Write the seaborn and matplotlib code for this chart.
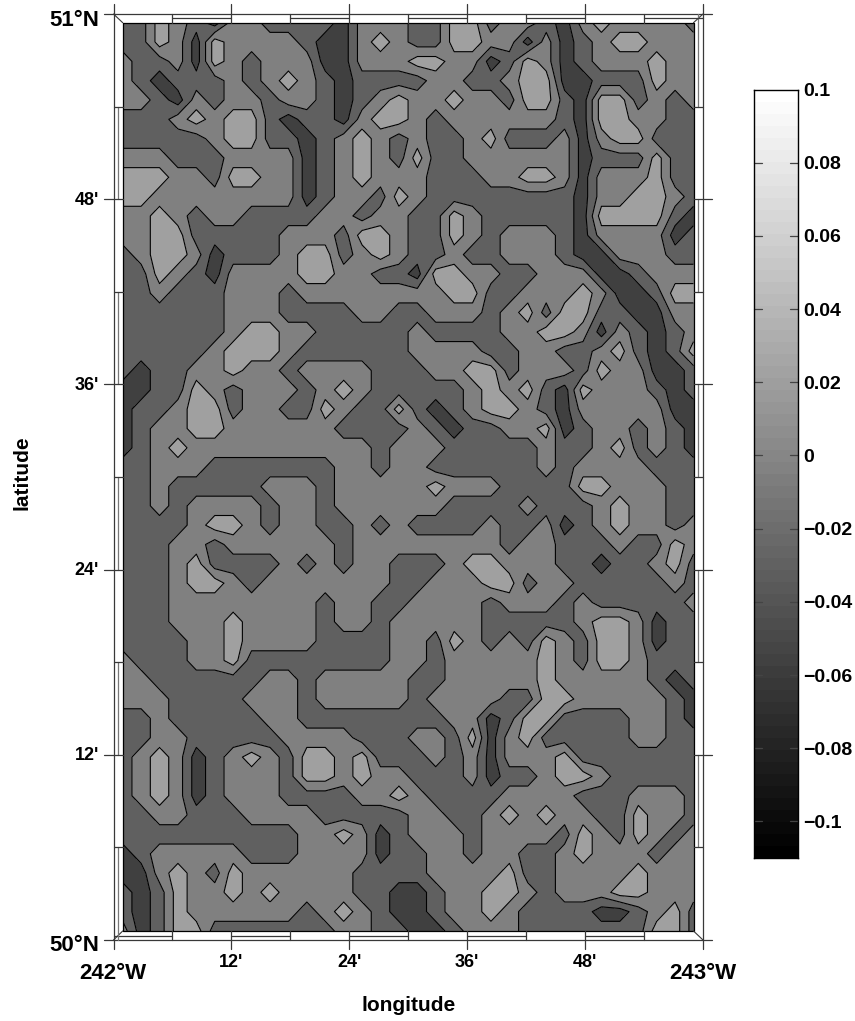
import numpy as np
import matplotlib
matplotlib.use("Agg")
import matplotlib.pyplot as plt
import seaborn as sns

# grey band of each grid node, north to south
# 0 darkest ... 3 lightest
BAND_ROWS = [
    "11321022 11110222 11331221 02322221",
    "11320322 22100232 11332202 01233222",
    "21120321 22200222 33220132 01222322",
    "21011121 23210111 12211233 00111322",
    "22102122 12210123 22322133 10331212",
    "11123233 10110233 21222222 10332211",
    "11111233 11012321 21123111 20233111",
    "22211122 22012321 31122222 20111311",
    "33322133 22012322 21112233 20222311",
    "33222222 22012213 21111111 10223321",
    "22321221 11122122 11321111 10333310",
    "22331111 12221332 11321222 10222201",
    "12332011 12331232 11211222 10022211",
    "11321022 22332211 03322112 22001222",
    "11211122 21222222 22331122 23200133",
    "11111122 21111221 12221231 33110022",
    "11111123 32211111 21111223 32021012",
    "11111233 32111111 22221122 11231013",
    "10112232 21222211 12233122 21322001",
    "00113212 22123211 11123231 03222101",
    "01123312 21132113 10123321 02222200",
    "01223322 22221111 21011223 01221210",
    "01232222 22222212 22111112 11231210",
    "11222111 11112212 21111112 12222111",
    "11211111 22212222 23222111 13322211",
    "11212222 12212222 22111121 11232211",
    "11112332 12211212 11112112 01232212",
    "11122122 22221222 22222122 11121132",
    "11123111 12121221 11233222 11011231",
    "11123321 22222221 12223312 21111121",
    "11122222 22212211 22221222 12111112",
    "11122232 22212212 22221111 12332011",
    "11112232 22211112 21321213 21332011",
    "21112231 11111112 21222223 21332111",
    "22111111 22122222 11222223 22222101",
    "22211112 22122222 12222113 32222210",
    "11211111 22111111 11220133 11112210",
    "11221111 12222111 22130231 11112211",
    "12320123 21332311 12120222 31111111",
    "12320122 21332322 11120112 33211111",
    "12320122 21111223 21111222 21112221",
    "11221112 22211111 22112323 22113221",
    "11111111 11223201 22212222 13213212",
    "01222221 11222201 12212211 23222122",
    "00232132 22222111 12222311 22223222",
    "10132232 32222110 01223321 22233222",
    "10132222 22123210 01223211 11001231",
    "20133111 11112211 00122211 11111331",
]
BAND_VALUES = [-0.05, -0.025, 0.0, 0.025]
BAND_COLORS = ["#404040", "#606060", "#808080", "#a0a0a0"]
LEVELS = [-1.0, -0.0375, -0.0125, 0.0125, 1.0]

LON_TICKS = ["12'", "24'", "36'", "48'"]
LAT_TICKS = ["12'", "24'", "36'", "48'"]
BAR_TICKS = [0.1, 0.08, 0.06, 0.04, 0.02, 0, -0.02, -0.04, -0.06, -0.08, -0.1]
BAR_LABELS = ["0.1", "0.08", "0.06", "0.04", "0.02", "0",
              "\u22120.02", "\u22120.04", "\u22120.06", "\u22120.08", "\u22120.1"]
BAR_TOP, BAR_BOTTOM = 0.1, -0.11

W, H = 855, 1021
OX0, OX1, OY0, OY1 = 113.5, 703.0, 14.0, 940.0   # outer frame, px
IX0, IX1, IY0, IY1 = 122.7, 693.5, 22.7, 931.0   # map area, px
FRAME = "#383838"


def px_axes(fig, x0, y0, x1, y1):
    return fig.add_axes([x0 / W, 1 - y1 / H, (x1 - x0) / W, (y1 - y0) / H])


sns.set_theme(style="white")
plt.rcParams["font.family"] = ["Liberation Sans", "DejaVu Sans"]
plt.rcParams["font.weight"] = "bold"
plt.rcParams["text.color"] = "black"

z = np.array([[BAND_VALUES[int(c)] for c in r.replace(" ", "")] for r in BAND_ROWS])
lon = np.linspace(242, 243, z.shape[1])
lat = np.linspace(51, 50, z.shape[0])

fig = plt.figure(figsize=(W / 100, H / 100), dpi=100, facecolor="white")

# map
ax = px_axes(fig, IX0, IY0, IX1, IY1)
ax.contourf(lon, lat, z, levels=LEVELS, colors=BAND_COLORS)
ax.contour(lon, lat, z, levels=LEVELS[1:-1], colors="black", linewidths=0.8, linestyles="solid")
ax.set_xlim(242, 243)
ax.set_ylim(50, 51)
ax.set_xticks([])
ax.set_yticks([])
for s in ax.spines.values():
    s.set_visible(False)

# colour bar
ax_bar = px_axes(fig, 754, 89.5, 798, 858)
bar = np.linspace(1, 0, 64).reshape(-1, 1)
sns.heatmap(bar, ax=ax_bar, cmap="gray", vmin=0, vmax=1, cbar=False,
            xticklabels=False, yticklabels=False)
span = BAR_TOP - BAR_BOTTOM
ypos = [(BAR_TOP - v) / span * 64 for v in BAR_TICKS]
ax_bar.yaxis.tick_right()
ax_bar.set_yticks(ypos)
ax_bar.set_yticklabels(BAR_LABELS, fontsize=14, fontweight="bold", rotation=0, color="black")
ax_bar.tick_params(axis="y", length=0, pad=4)
for s in ax_bar.spines.values():
    s.set_visible(True)
    s.set_color("black")
    s.set_linewidth(1.0)
for y in ypos[1:]:
    ax_bar.plot([0, 0.18], [y, y], color="#444444", lw=0.9, clip_on=False)
    ax_bar.plot([0.82, 1], [y, y], color="#444444", lw=0.9, clip_on=False)

# fancy frame, drawn in pixel space
ov = fig.add_axes([0, 0, 1, 1], facecolor="none")
ov.set_xlim(0, W)
ov.set_ylim(H, 0)
ov.axis("off")
ov.plot([OX0, OX1, OX1, OX0, OX0], [OY0, OY0, OY1, OY1, OY0], color=FRAME, lw=0.9)
ov.plot([IX0, IX1, IX1, IX0, IX0], [IY0, IY0, IY1, IY1, IY0], color="black", lw=0.9)
ov.plot([OX0, IX0], [OY0, IY0], color=FRAME, lw=0.8)
ov.plot([OX1, IX1], [OY0, IY0], color=FRAME, lw=0.8)
ov.plot([OX0, IX0], [OY1, IY1], color=FRAME, lw=0.8)
ov.plot([OX1, IX1], [OY1, IY1], color=FRAME, lw=0.8)

xs = np.linspace(OX0, OX1, 11)
ys = np.linspace(OY0, OY1, 11)
for k in range(10):
    x0, x1 = xs[k], xs[k + 1]
    y0, y1 = ys[k], ys[k + 1]
    if k % 2 == 1:
        ov.plot([x0, x1], [18.5, 18.5], color=FRAME, lw=0.9)
        ov.plot([118, 118], [y0, y1], color="#777777", lw=0.9)
    else:
        ov.plot([x0, x1], [935.5, 935.5], color=FRAME, lw=0.9)
        ov.plot([698.3, 698.3], [y0, y1], color="#777777", lw=0.9)
for k in range(1, 10):
    ov.plot([xs[k], xs[k]], [OY0, IY0], color=FRAME, lw=0.9)
    ov.plot([xs[k], xs[k]], [OY1, IY1], color=FRAME, lw=0.9)
    ov.plot([OX0, IX0], [ys[k], ys[k]], color=FRAME, lw=0.9)
    ov.plot([OX1, IX1], [ys[k], ys[k]], color=FRAME, lw=0.9)
for k in range(0, 11, 2):
    ov.plot([xs[k], xs[k]], [4, OY0], color=FRAME, lw=0.9)
    ov.plot([xs[k], xs[k]], [OY1, 949], color=FRAME, lw=0.9)
    ov.plot([104, OX0], [ys[k], ys[k]], color=FRAME, lw=0.9)
    ov.plot([OX1, 712], [ys[k], ys[k]], color=FRAME, lw=0.9)

# tick labels and axis titles
ov.text(99, 21, "51\u00b0N", ha="right", va="center", fontsize=16, fontweight="bold")
ov.text(99, 945, "50\u00b0N", ha="right", va="center", fontsize=16, fontweight="bold")
ov.text(113, 973, "242\u00b0W", ha="center", va="center", fontsize=16, fontweight="bold")
ov.text(703, 973, "243\u00b0W", ha="center", va="center", fontsize=16, fontweight="bold")
for k, t in enumerate(LON_TICKS):
    ov.text(xs[2 * (k + 1)], 962, t, ha="center", va="center", fontsize=13, fontweight="bold")
for k, t in enumerate(LAT_TICKS):
    ov.text(99, ys[10 - 2 * (k + 1)] + 1, t, ha="right", va="center", fontsize=13, fontweight="bold")
ov.text(409, 1005, "longitude", ha="center", va="center", fontsize=15, fontweight="bold")
ov.text(22, 473, "latitude", ha="center", va="center", rotation=90, fontsize=15, fontweight="bold")

fig.savefig("out.png", dpi=100)
